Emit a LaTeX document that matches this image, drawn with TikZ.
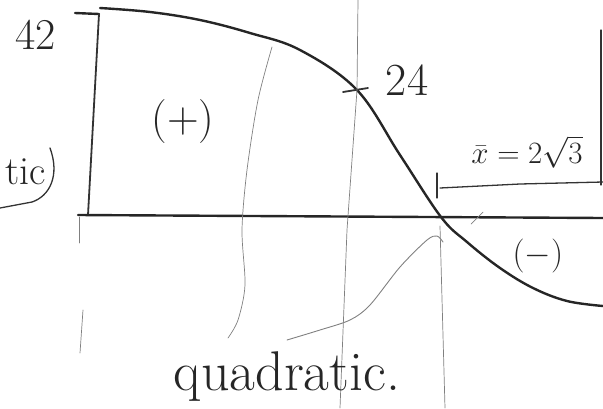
\RequirePackage{fix-cm}
\documentclass[tikz,border=0pt]{standalone}
\usepackage{amsmath}
\usepackage{tikz}
\usetikzlibrary{positioning}

\begin{document}
\begin{tikzpicture}[x=1pt,y=-1pt,
  ink/.style={line width=2.4pt,black!85,line cap=round,line join=round},
  pen/.style={line width=1.3pt,black!80,line cap=round},
  pencil/.style={line width=0.7pt,black!50,line cap=round},
  hand/.style={inner sep=0pt,black!85}]
  \useasboundingbox (0,0) rectangle (603,408);
  % axes
  \coordinate (tk) at (75,13);
  \coordinate (top) at (99,14);
  \coordinate (origin) at (88,215);
  \coordinate (ax0) at (78,215);
  \coordinate (ax1) at (603,218);
  \draw[ink] (tk) -- (top);
  \draw[pen,line width=1.8pt] (top) -- (origin);
  \draw[ink] (ax0) -- (ax1);
  % the curve
  \coordinate (start) at (100,8);
  \coordinate (p24) at (357,90);
  \coordinate (root) at (441,217);
  \draw[ink] plot[smooth,tension=0.6] coordinates {(start) (150,12) (200,20) (250,33) (300,50) (p24) (400,155) (root) (467,242) (500,268) (533,288) (567,301) (603,306)};
  \coordinate (m0) at (343,92);
  \coordinate (m1) at (368,88);
  \draw[pen,line width=1.8pt] (m0) -- (m1);
  % pencil guides
  \draw[pencil] (358,0) -- (p24) -- (347,230) -- (340,408);
  \coordinate (g0) at (440,226);
  \coordinate (g1) at (445,408);
  \draw[pencil] (g0) -- (g1);
  \draw[pencil] plot[smooth] coordinates {(272,47) (258,100) (247,170) (242,230) (245,285) (238,320) (228,338)};
  \draw[pencil] (79,217) -- (79,243);
  \draw[pencil] (83,310) -- (80,353);
  \draw[pencil] (471,224) -- (483,212);
  % bracket for x bar
  \coordinate (b0) at (440,188);
  \coordinate (b1) at (603,182);
  \draw[pen] (437,173) -- (437,198);
  \draw[pen] (b0) -- (520,184) -- (b1);
  \draw[pen] (601,30) -- (601,185);
  % labels
  \node[hand,font=\fontsize{44}{44}\selectfont] (n42) at (36,35) {42};
  \node[hand,font=\fontsize{46}{46}\selectfont] (n24) at (407,80) {24};
  \node[hand,font=\fontsize{44}{44}\selectfont] (plus) at (183,122) {(+)};
  \node[hand,font=\fontsize{34}{34}\selectfont] (minus) at (538,256) {$(-)$};
  \node[hand,font=\fontsize{31}{31}\selectfont] (xbar) at (527,152) {$\bar{x}=2\sqrt{3}$};
  \node[hand,font=\fontsize{40}{40}\selectfont,anchor=base east] (tic) at (46,184) {tic};
  \draw[pen] (50,148) .. controls (60,175) and (50,196) .. (32,202) -- (0,208);
  \node[hand,font=\fontsize{56}{56}\selectfont,anchor=base] (quad) at (287,390) {quadratic.};
  \draw[pencil,line width=0.9pt] plot[smooth] coordinates {(287,340) (320,330) (350,320) (370,305) (400,267) (427,240) (437,236) (443,242)};
\end{tikzpicture}
\end{document}
